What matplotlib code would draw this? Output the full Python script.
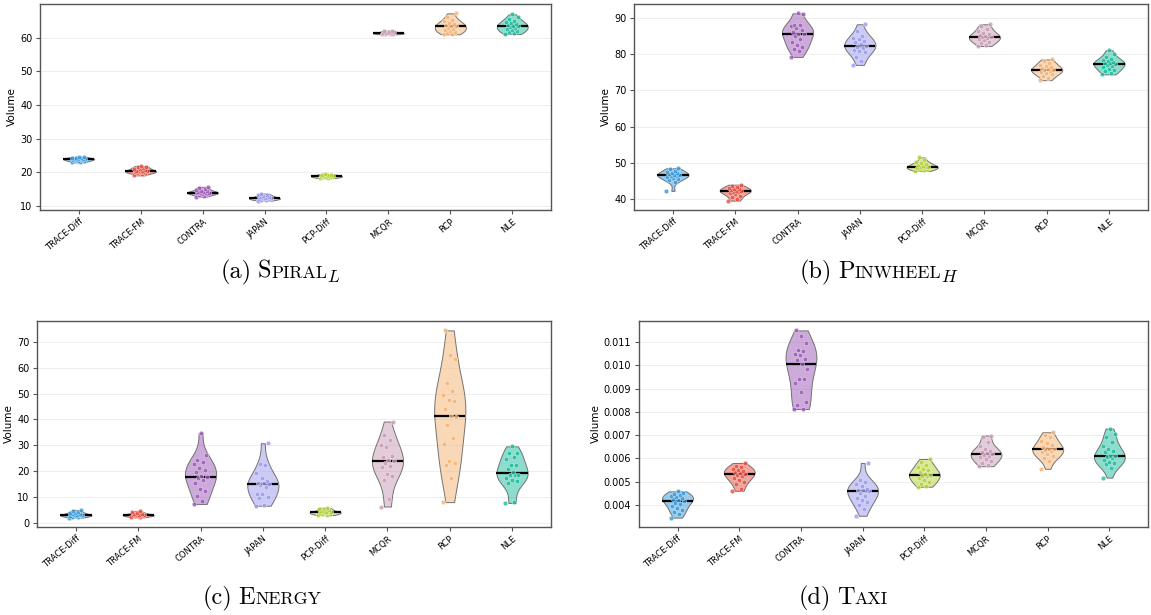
import numpy as np
import matplotlib
matplotlib.use("Agg")
import matplotlib.pyplot as plt
from matplotlib.colors import to_rgba

# ---------------- data ----------------
methods = ["TRACE-Diff", "TRACE-FM", "CONTRA", "JAPAN", "PCP-Diff", "MCQR", "RCP", "NLE"]
colors = ["#3498DB", "#E74C3C", "#9B59B6", "#9999EE", "#B2D235", "#C89AB5", "#F4B272", "#1ABC9C"]

# (a) Spiral_L
spiral_trace_diff = [23.0, 23.2, 23.3, 23.4, 23.5, 23.6, 23.7, 23.8, 23.9, 23.9, 24.0, 24.0, 24.1, 24.2, 24.3, 24.4, 24.5, 24.6]
spiral_trace_fm = [19.1, 19.5, 19.7, 19.9, 20.0, 20.1, 20.2, 20.3, 20.4, 20.4, 20.5, 20.7, 20.9, 21.1, 21.3, 21.5, 21.7, 21.9]
spiral_contra = [12.8, 13.1, 13.4, 13.6, 13.7, 13.8, 13.9, 14.0, 14.0, 14.1, 14.2, 14.4, 14.6, 14.9, 15.2, 15.5, 15.7]
spiral_japan = [11.6, 11.8, 11.9, 12.0, 12.1, 12.2, 12.3, 12.3, 12.4, 12.5, 12.6, 12.8, 13.0, 13.2, 13.4, 13.7]
spiral_pcp_diff = [18.3, 18.4, 18.5, 18.6, 18.7, 18.8, 18.8, 18.9, 19.0, 19.1, 19.2, 19.3, 19.5]
spiral_mcqr = [61.0, 61.1, 61.2, 61.2, 61.3, 61.3, 61.4, 61.5, 61.6, 61.8, 62.0, 62.1]
spiral_rcp = [61.0, 61.2, 61.5, 61.8, 62.1, 62.4, 62.7, 63.0, 63.3, 63.5, 63.8, 64.1, 64.4, 64.8, 65.3, 66.2, 67.2]
spiral_nle = [61.1, 61.3, 61.6, 61.9, 62.2, 62.5, 62.8, 63.1, 63.3, 63.5, 63.7, 64.0, 64.3, 64.6, 65.0, 65.4, 66.0, 66.9]

# (b) Pinwheel_H
pinwheel_trace_diff = [42.3, 44.8, 45.2, 45.6, 45.9, 46.2, 46.4, 46.5, 46.6, 46.7, 46.9, 47.1, 47.3, 47.6, 47.9, 48.2, 48.5]
pinwheel_trace_fm = [39.6, 40.0, 40.5, 41.0, 41.4, 41.7, 41.9, 42.1, 42.2, 42.3, 42.5, 42.7, 42.9, 43.1, 43.4, 43.7, 44.0]
pinwheel_contra = [79.2, 80.8, 81.5, 82.0, 82.6, 83.3, 84.2, 85.0, 85.4, 85.6, 86.1, 86.6, 87.1, 87.6, 87.9, 88.1, 91.0, 91.2]
pinwheel_japan = [77.0, 78.2, 79.3, 80.6, 80.9, 81.2, 81.6, 82.0, 82.2, 82.8, 83.2, 83.6, 84.0, 84.5, 85.0, 86.3, 88.2]
pinwheel_pcp_diff = [47.8, 48.0, 48.2, 48.4, 48.5, 48.7, 48.8, 48.9, 49.0, 49.2, 49.4, 49.6, 49.9, 50.2, 50.7, 51.5]
pinwheel_mcqr = [82.2, 82.6, 83.0, 83.4, 83.8, 84.1, 84.4, 84.6, 84.7, 84.9, 85.2, 85.5, 85.9, 86.4, 87.0, 87.6, 88.2]
pinwheel_rcp = [72.8, 73.4, 74.0, 74.4, 74.8, 75.1, 75.3, 75.5, 75.6, 75.8, 76.1, 76.4, 76.7, 77.1, 77.6, 78.0, 78.5]
pinwheel_nle = [74.4, 74.8, 75.2, 75.6, 76.0, 76.3, 76.7, 77.0, 77.2, 77.4, 77.6, 77.8, 78.0, 78.3, 78.7, 79.3, 80.1, 81.0]

# (c) Energy
energy_trace_diff = [2.0, 2.2, 2.4, 2.6, 2.7, 2.8, 2.9, 3.0, 3.0, 3.1, 3.3, 3.5, 3.7, 3.9, 4.2, 4.5, 5.0]
energy_trace_fm = [2.2, 2.4, 2.5, 2.7, 2.8, 2.9, 3.0, 3.0, 3.1, 3.2, 3.4, 3.6, 3.8, 4.1, 4.6]
energy_contra = [7.3, 8.3, 10.3, 12.2, 13.1, 15.4, 16.7, 17.3, 17.8, 18.0, 19.5, 20.4, 21.3, 22.8, 23.4, 24.4, 26.3, 34.7]
energy_japan = [6.6, 6.9, 9.6, 9.8, 11.0, 11.3, 13.8, 14.8, 15.1, 15.3, 15.6, 16.2, 17.5, 19.4, 22.5, 22.8, 30.8]
energy_pcp_diff = [3.0, 3.1, 3.3, 3.5, 3.7, 3.9, 4.0, 4.0, 4.1, 4.3, 4.5, 4.8, 5.2, 5.5, 5.8]
energy_mcqr = [6.3, 9.2, 16.5, 18.0, 19.0, 21.5, 22.0, 23.0, 24.1, 24.5, 25.5, 26.0, 29.5, 30.0, 32.0, 34.0, 39.2]
energy_rcp = [8.0, 17.5, 22.5, 23.0, 24.0, 30.5, 33.0, 38.0, 40.8, 41.2, 44.0, 47.0, 47.5, 49.5, 51.0, 54.0, 63.3, 65.0, 74.5]
energy_nle = [7.7, 7.9, 15.3, 16.0, 16.7, 17.3, 18.5, 18.5, 18.6, 19.7, 20.8, 22.4, 22.4, 24.8, 25.4, 27.0, 27.2, 29.6]

# (d) Taxi
taxi_trace_diff = [0.00345, 0.00360, 0.00368, 0.00378, 0.00388, 0.00395, 0.00402, 0.00410, 0.00416, 0.00421,
                   0.00425, 0.00428, 0.00432, 0.00437, 0.00442, 0.00447, 0.00452, 0.00458]
taxi_trace_fm = [0.00460, 0.00468, 0.00490, 0.00500, 0.00508, 0.00515, 0.00522, 0.00528, 0.00533, 0.00537,
                 0.00542, 0.00547, 0.00551, 0.00555, 0.00562, 0.00568, 0.00580]
taxi_contra = [0.00812, 0.00812, 0.00829, 0.00843, 0.00886, 0.00925, 0.00939, 0.00943, 0.00986, 0.01006,
               0.01022, 0.01029, 0.01043, 0.01050, 0.01062, 0.01067, 0.01097, 0.01126, 0.01150]
taxi_japan = [0.00353, 0.00382, 0.00400, 0.00412, 0.00420, 0.00428, 0.00440, 0.00452, 0.00461, 0.00463,
              0.00465, 0.00470, 0.00480, 0.00490, 0.00500, 0.00508, 0.00580]
taxi_pcp_diff = [0.00478, 0.00480, 0.00490, 0.00500, 0.00508, 0.00515, 0.00522, 0.00526, 0.00528, 0.00532,
                 0.00540, 0.00548, 0.00555, 0.00563, 0.00572, 0.00585, 0.00597]
taxi_mcqr = [0.00566, 0.00572, 0.00580, 0.00590, 0.00598, 0.00605, 0.00610, 0.00615, 0.00620, 0.00623,
             0.00627, 0.00632, 0.00640, 0.00652, 0.00668, 0.00693, 0.00698]
taxi_rcp = [0.00555, 0.00590, 0.00600, 0.00610, 0.00618, 0.00625, 0.00630, 0.00635, 0.00638, 0.00642,
            0.00650, 0.00658, 0.00665, 0.00675, 0.00690, 0.00700, 0.00712]
taxi_nle = [0.00517, 0.00560, 0.00575, 0.00580, 0.00585, 0.00592, 0.00600, 0.00605, 0.00610, 0.00612,
            0.00625, 0.00632, 0.00640, 0.00655, 0.00668, 0.00690, 0.00705, 0.00728]

spiral = [spiral_trace_diff, spiral_trace_fm, spiral_contra, spiral_japan,
          spiral_pcp_diff, spiral_mcqr, spiral_rcp, spiral_nle]
pinwheel = [pinwheel_trace_diff, pinwheel_trace_fm, pinwheel_contra, pinwheel_japan,
            pinwheel_pcp_diff, pinwheel_mcqr, pinwheel_rcp, pinwheel_nle]
energy = [energy_trace_diff, energy_trace_fm, energy_contra, energy_japan,
          energy_pcp_diff, energy_mcqr, energy_rcp, energy_nle]
taxi = [taxi_trace_diff, taxi_trace_fm, taxi_contra, taxi_japan,
        taxi_pcp_diff, taxi_mcqr, taxi_rcp, taxi_nle]

# ---------------- figure ----------------
W, H = 1151, 615
fig = plt.figure(figsize=(W / 100, H / 100), dpi=100)


def px_axes(left, top, right, bottom):
    return fig.add_axes([left / W, 1 - bottom / H, (right - left) / W, (bottom - top) / H])


def draw_panel(ax, data):
    positions = np.arange(1, len(data) + 1)
    parts = ax.violinplot(data, positions=positions, widths=0.5,
                          showmeans=False, showmedians=False, showextrema=False)
    for body, c in zip(parts["bodies"], colors):
        body.set_alpha(None)
        body.set_facecolor(to_rgba(c, 0.5))
        body.set_edgecolor((0.4, 0.4, 0.4, 0.9))
        body.set_linewidth(0.7)
        body.set_zorder(2)
    for pos, vals, c in zip(positions, data, colors):
        med = np.median(vals)
        ax.hlines(med, pos - 0.25, pos + 0.25, color="black", lw=1.6, zorder=3)
        n = len(vals)
        jit = ((np.arange(n) * 0.618034) % 1.0 - 0.5) * 0.22
        ax.scatter(pos + jit, vals, s=11, color=c, alpha=0.8,
                   edgecolors="white", linewidths=0.3, zorder=4)
    ax.set_xticks(positions)
    ax.set_xticklabels(methods, rotation=40, ha="right", rotation_mode="anchor", fontsize=6)
    ax.tick_params(axis="y", labelsize=7, length=3, color="#555555", pad=2.5)
    ax.tick_params(axis="x", length=3, color="#555555", pad=2)
    ax.set_ylabel("Volume", fontsize=7.5, labelpad=2)
    ax.yaxis.grid(True, color="#EEEEEE", lw=0.7, zorder=0)
    ax.set_axisbelow(True)
    for sp in ax.spines.values():
        sp.set_color("#555555")
        sp.set_linewidth(1.0)


ax_a = px_axes(40, 4, 551, 210)
draw_panel(ax_a, spiral)
ax_b = px_axes(634, 4, 1148, 210)
draw_panel(ax_b, pinwheel)
ax_c = px_axes(37, 321, 551, 527)
draw_panel(ax_c, energy)
ax_d = px_axes(639, 321, 1148, 527)
draw_panel(ax_d, taxi)
ax_d.yaxis.set_major_formatter(matplotlib.ticker.FormatStrFormatter("%.3f"))

# ---------------- captions (small caps built from pieces) ----------------
renderer = fig.canvas.get_renderer()
BIG = 17.5
SMALL = 12.8


def caption(xc, ybase, pieces):
    texts = []
    total = 0.0
    for s, size, fam, dy, gap in pieces:
        t = fig.text(0, 0, s, fontsize=size, family=fam, va="baseline", ha="left")
        w = t.get_window_extent(renderer).width
        texts.append((t, w, dy, gap))
        total += w + gap
    x = xc - total / 2
    for t, w, dy, gap in texts:
        t.set_position((x / W, 1 - (ybase + dy) / H))
        x += w + gap


caption(280, 278, [("(a)", BIG, "cmr10", 0, 6), ("S", BIG, "cmr10", 0, 0),
                   ("PIRAL", SMALL, "cmr10", 0, 0), ("L", 12.5, "cmmi10", 4, 0)])
caption(878, 278, [("(b)", BIG, "cmr10", 0, 6), ("P", BIG, "cmr10", 0, 0),
                   ("INWHEEL", SMALL, "cmr10", 0, 0), ("H", 12.5, "cmmi10", 4, 0)])
caption(262, 604, [("(c)", BIG, "cmr10", 0, 6), ("E", BIG, "cmr10", 0, 0),
                   ("NERGY", SMALL, "cmr10", 0, 0)])
caption(843, 604, [("(d)", BIG, "cmr10", 0, 6), ("T", BIG, "cmr10", 0, 0),
                   ("AXI", SMALL, "cmr10", 0, 0)])

fig.savefig("out.png", dpi=100)
